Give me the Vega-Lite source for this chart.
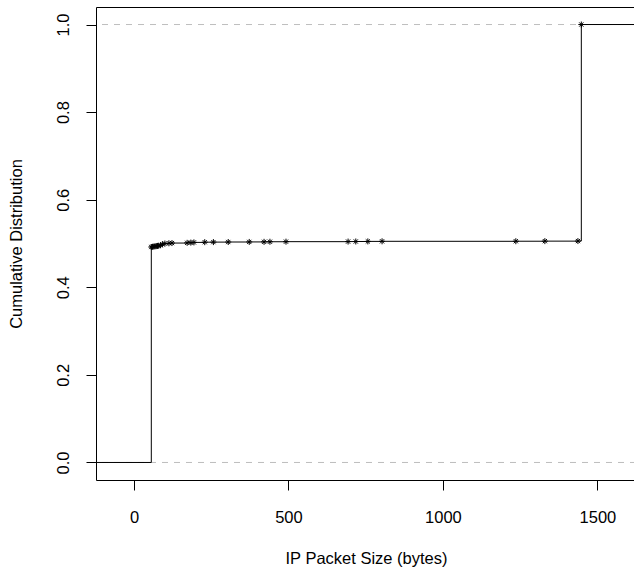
{
  "$schema": "https://vega.github.io/schema/vega-lite/v6.json",
  "width": 540,
  "height": 473,
  "autosize": {"type": "none"},
  "padding": {"left": 96, "top": 7, "right": 0, "bottom": 90},
  "config": {
    "font": "Liberation Sans",
    "view": {"stroke": "black", "strokeWidth": 1},
    "axis": {
      "grid": false,
      "domain": false,
      "tickSize": 10,
      "tickColor": "black",
      "tickWidth": 1,
      "labelColor": "black",
      "labelFontSize": 16.5,
      "labelFlush": false,
      "labelOverlap": false,
      "titleColor": "black",
      "titleFontSize": 16.5,
      "titleFontWeight": "normal"
    }
  },
  "datasets": {
    "ecdf": [
      {"size": -123, "cdf": 0, "knot": false},
      {"size": 56, "cdf": 0.492, "knot": true},
      {"size": 60, "cdf": 0.4925, "knot": true},
      {"size": 64, "cdf": 0.493, "knot": true},
      {"size": 68, "cdf": 0.4935, "knot": true},
      {"size": 72, "cdf": 0.494, "knot": true},
      {"size": 76, "cdf": 0.4945, "knot": true},
      {"size": 80, "cdf": 0.495, "knot": true},
      {"size": 86, "cdf": 0.496, "knot": true},
      {"size": 92, "cdf": 0.4985, "knot": true},
      {"size": 100, "cdf": 0.5, "knot": true},
      {"size": 113, "cdf": 0.5005, "knot": true},
      {"size": 123, "cdf": 0.501, "knot": true},
      {"size": 172, "cdf": 0.5015, "knot": true},
      {"size": 184, "cdf": 0.502, "knot": true},
      {"size": 194, "cdf": 0.5025, "knot": true},
      {"size": 229, "cdf": 0.503, "knot": true},
      {"size": 257, "cdf": 0.5032, "knot": true},
      {"size": 305, "cdf": 0.5034, "knot": true},
      {"size": 373, "cdf": 0.5036, "knot": true},
      {"size": 421, "cdf": 0.5038, "knot": true},
      {"size": 440, "cdf": 0.504, "knot": true},
      {"size": 492, "cdf": 0.5042, "knot": true},
      {"size": 693, "cdf": 0.5044, "knot": true},
      {"size": 718, "cdf": 0.5046, "knot": true},
      {"size": 757, "cdf": 0.5048, "knot": true},
      {"size": 803, "cdf": 0.505, "knot": true},
      {"size": 1236, "cdf": 0.5052, "knot": true},
      {"size": 1330, "cdf": 0.5054, "knot": true},
      {"size": 1437, "cdf": 0.5056, "knot": true},
      {"size": 1448, "cdf": 1.0, "knot": true},
      {"size": 1625, "cdf": 1.0, "knot": false}
    ],
    "bounds": [{"level": 0}, {"level": 1}]
  },
  "layer": [
    {
      "data": {"name": "bounds"},
      "mark": {"type": "rule", "color": "#bebebe", "strokeDash": [6, 6], "strokeWidth": 1},
      "encoding": {
        "y": {"field": "level", "type": "quantitative"}
      }
    },
    {
      "data": {"name": "ecdf"},
      "mark": {"type": "line", "interpolate": "step-after", "color": "black", "strokeWidth": 1, "clip": true},
      "encoding": {
        "x": {
          "field": "size",
          "type": "quantitative",
          "scale": {"domain": [-123, 1625], "nice": false, "zero": false},
          "axis": {
            "values": [0, 500, 1000, 1500],
            "format": "d",
            "title": "IP Packet Size (bytes)",
            "labelPadding": 19,
            "titlePadding": 25
          }
        },
        "y": {
          "field": "cdf",
          "type": "quantitative",
          "scale": {"domain": [-0.04, 1.04], "nice": false, "zero": false},
          "axis": {
            "values": [0, 0.2, 0.4, 0.6, 0.8, 1.0],
            "format": ".1f",
            "title": "Cumulative Distribution",
            "labelAngle": -90,
            "labelAlign": "center",
            "labelBaseline": "alphabetic",
            "labelPadding": 18,
            "titlePadding": 31
          }
        }
      }
    },
    {
      "data": {"name": "ecdf"},
      "transform": [{"filter": "datum.knot"}],
      "mark": {
        "type": "point",
        "shape": "M-1,0L1,0M0,-1L0,1M-0.7,-0.7L0.7,0.7M-0.7,0.7L0.7,-0.7",
        "filled": false,
        "stroke": "black",
        "strokeWidth": 1,
        "size": 36,
        "opacity": 1
      },
      "encoding": {
        "x": {"field": "size", "type": "quantitative"},
        "y": {"field": "cdf", "type": "quantitative"}
      }
    }
  ]
}
